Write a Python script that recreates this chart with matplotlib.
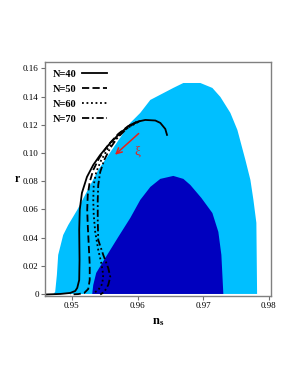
import matplotlib
matplotlib.use('Agg')
import matplotlib.pyplot as plt

plt.rcParams['font.family'] = ['Liberation Serif', 'DejaVu Serif']
plt.rcParams['mathtext.fontset'] = 'custom'
plt.rcParams['mathtext.rm'] = 'Liberation Serif'
plt.rcParams['mathtext.bf'] = 'Liberation Serif:bold'

# 1-sigma / 2-sigma regions (ns, r)
ns_2sig = [0.94720, 0.94745, 0.94771, 0.94791, 0.94867, 0.94944, 0.95081, 0.95401,
           0.95889, 0.96041, 0.96194, 0.96544, 0.96697, 0.96956, 0.97139, 0.97261,
           0.97413, 0.97520, 0.97642, 0.97718, 0.97764, 0.97809, 0.97820]
r_2sig = [0.0, 0.0014, 0.0135, 0.0277, 0.0418, 0.0489, 0.0596, 0.0879,
          0.1213, 0.1284, 0.1376, 0.1461, 0.1496, 0.1496, 0.1461, 0.1397,
          0.1284, 0.1163, 0.0950, 0.0809, 0.0667, 0.0504, 0.0]

ns_1sig = [0.95309, 0.95325, 0.95370, 0.95508, 0.95706, 0.95889, 0.96041, 0.96194,
           0.96346, 0.96544, 0.96697, 0.96803, 0.96971, 0.97139, 0.97230, 0.97276,
           0.97306]
r_1sig = [0.0, 0.0064, 0.0149, 0.0255, 0.0404, 0.0539, 0.0667, 0.0759,
          0.0816, 0.0837, 0.0816, 0.0773, 0.0681, 0.0574, 0.0440, 0.0277,
          0.0]

# model predictions for N = 40, 50, 60, 70
ns_n40 = [0.96448, 0.96422, 0.96346, 0.96270, 0.96117, 0.96011, 0.95889, 0.95736,
          0.95584, 0.95431, 0.95325, 0.95229, 0.95152, 0.95119, 0.95111, 0.95116,
          0.95111, 0.95081, 0.95050, 0.94974, 0.94822, 0.94593, 0.94400]
r_n40 = [0.1128, 0.1170, 0.1213, 0.1230, 0.1234, 0.1223, 0.1199, 0.1142,
         0.1071, 0.0986, 0.0915, 0.0830, 0.0716, 0.0596, 0.0454, 0.0241,
         0.0099, 0.0043, 0.0021, 0.0007, 0.0, -0.0004, -0.0005]

ns_n50 = [0.96041, 0.95858, 0.95706, 0.95553, 0.95416, 0.95325, 0.95271, 0.95241,
          0.95233, 0.95241, 0.95256, 0.95271, 0.95271, 0.95248, 0.95188, 0.95096,
          0.94974]
r_n50 = [0.1227, 0.1191, 0.1135, 0.1057, 0.0965, 0.0879, 0.0794, 0.0702,
         0.0596, 0.0489, 0.0348, 0.0206, 0.0099, 0.0035, 0.0007, -0.0001,
         -0.0004]

ns_n60 = [0.96011, 0.95843, 0.95691, 0.95553, 0.95447, 0.95370, 0.95332, 0.95325,
          0.95332, 0.95355, 0.95401, 0.95447, 0.95477, 0.95462, 0.95401, 0.95325]
r_n60 = [0.1220, 0.1177, 0.1113, 0.1035, 0.0950, 0.0865, 0.0773, 0.0667,
         0.0560, 0.0440, 0.0312, 0.0220, 0.0135, 0.0071, 0.0028, 0.0004]

ns_n70 = [0.95980, 0.95828, 0.95691, 0.95584, 0.95492, 0.95431, 0.95401, 0.95393,
          0.95393, 0.95401, 0.95477, 0.95553, 0.95584, 0.95553, 0.95492, 0.95431]
r_n70 = [0.1220, 0.1170, 0.1106, 0.1035, 0.0950, 0.0865, 0.0773, 0.0667,
         0.0525, 0.0383, 0.0277, 0.0184, 0.0121, 0.0064, 0.0014, -0.0004]

labels = ['N=40', 'N=50', 'N=60', 'N=70']

xticks = [0.95, 0.96, 0.97, 0.98]
yticks = [0, 0.02, 0.04, 0.06, 0.08, 0.10, 0.12, 0.14, 0.16]
yticklabels = ['0', '0.02', '0.04', '0.06', '0.08', '0.10', '0.12', '0.14', '0.16']

fig = plt.figure(figsize=(2.98, 3.85), dpi=100)
ax = fig.add_axes([0.151, 0.231, 0.758, 0.608])

ax.fill(ns_2sig, r_2sig, color='#00bfff', lw=0)
ax.fill(ns_1sig, r_1sig, color='#0000bf', lw=0)

lw = 1.3
ax.plot(ns_n40, r_n40, color='black', lw=lw, label=labels[0])
ax.plot(ns_n50, r_n50, color='black', lw=lw, dashes=(4.0, 1.8), label=labels[1])
ax.plot(ns_n60, r_n60, color='black', lw=lw, dashes=(1, 1.5), label=labels[2])
ax.plot(ns_n70, r_n70, color='black', lw=lw, dashes=(4, 1.5, 1, 1.5), label=labels[3])

ax.annotate('', xy=(0.95625, 0.0974), xytext=(0.96048, 0.1151),
            arrowprops=dict(arrowstyle='->', color='#e8201a', lw=1.1))
ax.text(0.96000, 0.1012, 'ξ', color='#e8201a', fontsize=9.5, ha='center', va='center')

ax.set_xlim(0.9459, 0.9803)
ax.set_ylim(-0.0015, 0.1645)
ax.set_xticks(xticks)
ax.set_xticklabels(['%.2f' % v for v in xticks])
ax.set_yticks(yticks)
ax.set_yticklabels(yticklabels)
ax.tick_params(direction='out', length=3, width=0.8, color='#707070', labelsize=6.5, pad=1.5)

for s in ax.spines.values():
    s.set_color('#808080')
    s.set_linewidth(1.0)

ax.set_xlabel(r'$\mathbf{n_s}$', fontsize=9, labelpad=4)
ax.set_ylabel('r', fontsize=8.5, fontweight='bold', rotation=0, labelpad=4, va='center')

leg = ax.legend(loc='upper left', bbox_to_anchor=(0.0, 1.0), frameon=False, markerfirst=False,
                prop={'weight': 'bold', 'size': 7.5}, handlelength=2.4, labelspacing=0.55,
                handletextpad=0.6, borderaxespad=0.3)

fig.savefig('out.png', dpi=100)
